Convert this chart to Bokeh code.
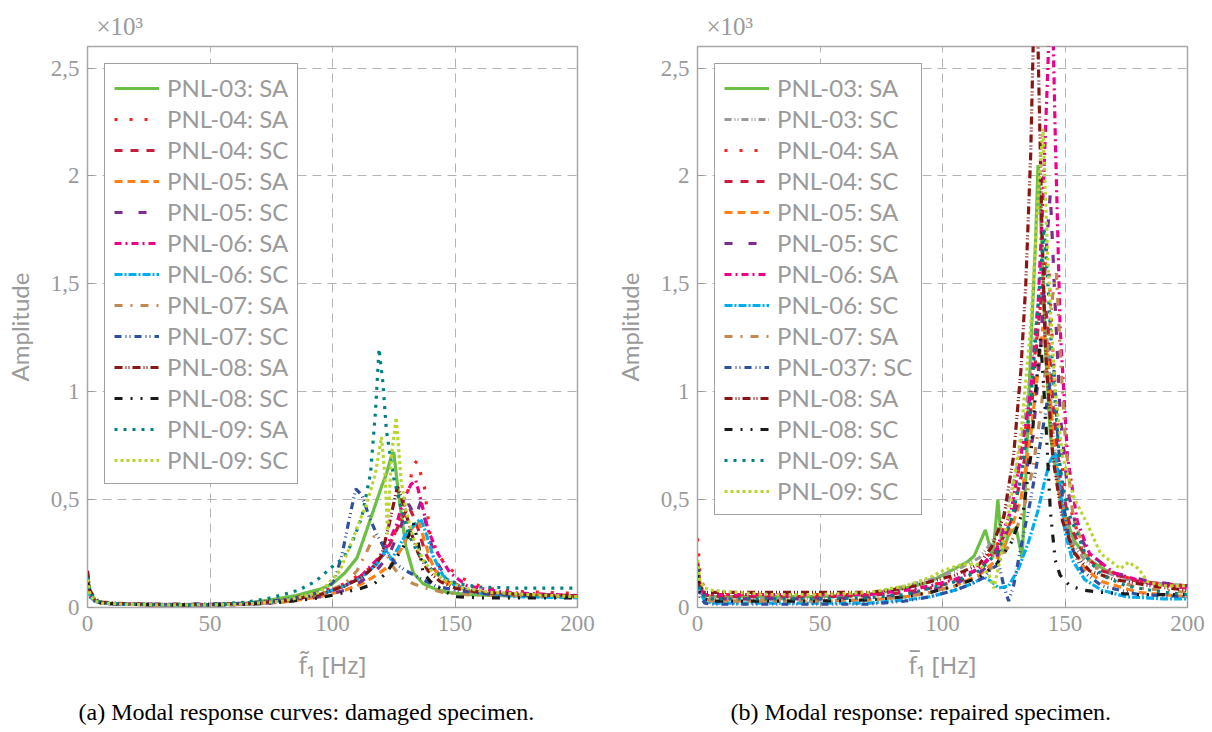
from bokeh.plotting import figure
from bokeh.models import Range1d, Legend, LegendItem, Title, FixedTicker
from bokeh.layouts import row
from bokeh.embed import file_html
from bokeh.resources import INLINE

# ---------------- data (amplitude in units of 10^3) ----------------
x_ticks = [0, 50, 100, 150, 200]
y_ticks = [0, 0.5, 1, 1.5, 2, 2.5]
y_tick_labels = {0: "0", 0.5: "0,5", 1: "1", 1.5: "1,5", 2: "2", 2.5: "2,5"}

# ---- (a) damaged specimen ----
a03SA_f = [0, 1, 3, 6, 15, 30, 50, 65, 75, 85, 95, 100, 105, 110, 114, 117, 120, 122, 124, 125, 127, 130, 133, 137, 142, 147, 155, 170, 185, 200]
a03SA_y = [0.14, 0.07, 0.035, 0.022, 0.015, 0.012, 0.012, 0.02, 0.035, 0.055, 0.085, 0.11, 0.16, 0.23, 0.36, 0.46, 0.56, 0.62, 0.7, 0.72, 0.52, 0.28, 0.16, 0.11, 0.085, 0.07, 0.06, 0.055, 0.05, 0.05]
a04SA_f = [0, 1, 3, 6, 15, 30, 50, 65, 80, 95, 105, 115, 120, 125, 128, 131, 133, 134.5, 136, 137.5, 140, 144, 148, 152, 162, 175, 200]
a04SA_y = [0.12, 0.06, 0.03, 0.02, 0.015, 0.012, 0.012, 0.018, 0.035, 0.07, 0.11, 0.18, 0.24, 0.33, 0.42, 0.55, 0.66, 0.68, 0.62, 0.56, 0.32, 0.23, 0.18, 0.14, 0.09, 0.075, 0.065]
a04SC_f = [0, 1, 3, 6, 15, 30, 50, 65, 80, 95, 105, 115, 122, 127, 131, 134, 138, 142, 147, 155, 170, 200]
a04SC_y = [0.13, 0.06, 0.03, 0.02, 0.015, 0.012, 0.012, 0.018, 0.03, 0.06, 0.1, 0.17, 0.26, 0.38, 0.47, 0.4, 0.25, 0.17, 0.12, 0.08, 0.06, 0.05]
a05SA_f = [0, 1, 3, 6, 15, 30, 50, 65, 80, 95, 105, 112, 118, 124, 128, 132, 135, 137, 140, 143, 148, 155, 170, 200]
a05SA_y = [0.12, 0.06, 0.03, 0.02, 0.015, 0.012, 0.012, 0.015, 0.025, 0.05, 0.08, 0.11, 0.15, 0.2, 0.27, 0.36, 0.4, 0.33, 0.22, 0.15, 0.1, 0.075, 0.06, 0.05]
a05SC_f = [0, 1, 3, 6, 15, 30, 50, 65, 80, 95, 105, 110, 117, 123, 128, 131, 134, 136, 139, 142, 147, 155, 170, 200]
a05SC_y = [0.12, 0.06, 0.03, 0.02, 0.016, 0.015, 0.015, 0.015, 0.025, 0.05, 0.08, 0.11, 0.16, 0.24, 0.38, 0.48, 0.42, 0.49, 0.35, 0.22, 0.13, 0.08, 0.06, 0.055]
a06SA_f = [0, 1, 3, 6, 15, 30, 50, 65, 80, 95, 105, 112, 118, 122, 126, 129, 132, 134, 136, 139, 143, 148, 155, 170, 200]
a06SA_y = [0.1, 0.05, 0.03, 0.02, 0.015, 0.012, 0.012, 0.015, 0.03, 0.06, 0.1, 0.15, 0.22, 0.28, 0.38, 0.5, 0.57, 0.59, 0.5, 0.36, 0.25, 0.16, 0.1, 0.07, 0.055]
a06SC_f = [0, 1, 3, 6, 15, 30, 50, 65, 80, 95, 105, 112, 118, 122, 124, 127, 130, 133, 136, 138, 141, 145, 150, 158, 175, 200]
a06SC_y = [0.11, 0.05, 0.03, 0.02, 0.015, 0.012, 0.012, 0.015, 0.03, 0.06, 0.1, 0.14, 0.2, 0.27, 0.22, 0.28, 0.34, 0.38, 0.41, 0.35, 0.24, 0.15, 0.1, 0.07, 0.05, 0.045]
a07SA_f = [0, 1, 3, 6, 15, 30, 50, 65, 80, 95, 105, 110, 114, 117, 120, 124, 128, 133, 138, 145, 155, 170, 200]
a07SA_y = [0.11, 0.05, 0.03, 0.02, 0.015, 0.012, 0.012, 0.015, 0.03, 0.06, 0.11, 0.17, 0.26, 0.33, 0.3, 0.2, 0.14, 0.11, 0.09, 0.07, 0.06, 0.055, 0.05]
a07SC_f = [0, 1, 3, 6, 15, 30, 50, 65, 80, 92, 98, 101, 104, 107, 109.5, 112, 115, 118, 122, 126, 130, 135, 142, 150, 165, 200]
a07SC_y = [0.12, 0.06, 0.03, 0.02, 0.015, 0.014, 0.016, 0.02, 0.035, 0.06, 0.09, 0.13, 0.25, 0.42, 0.55, 0.52, 0.42, 0.34, 0.26, 0.2, 0.17, 0.14, 0.1, 0.08, 0.06, 0.05]
a08SA_f = [0, 1, 3, 6, 15, 30, 50, 65, 80, 95, 105, 112, 117, 120, 123, 126.5, 129, 132, 135, 139, 144, 150, 160, 180, 200]
a08SA_y = [0.17, 0.08, 0.04, 0.025, 0.018, 0.015, 0.015, 0.018, 0.03, 0.06, 0.1, 0.14, 0.19, 0.24, 0.38, 0.56, 0.48, 0.35, 0.25, 0.17, 0.12, 0.09, 0.07, 0.06, 0.055]
a08SC_f = [0, 1, 3, 6, 15, 30, 50, 65, 80, 95, 105, 112, 117, 122, 126, 130, 133, 135, 137, 140, 145, 150, 160, 180, 200]
a08SC_y = [0.12, 0.06, 0.03, 0.02, 0.015, 0.012, 0.012, 0.014, 0.025, 0.045, 0.07, 0.09, 0.11, 0.16, 0.23, 0.3, 0.39, 0.3, 0.16, 0.12, 0.08, 0.05, 0.045, 0.045, 0.045]
a09SA_f = [0, 1, 3, 6, 15, 30, 50, 65, 73, 80, 86, 93, 100, 104.5, 108, 112, 115.5, 117.5, 119, 120.5, 122, 125, 128, 131, 134.5, 140, 145, 151, 160, 175, 200]
a09SA_y = [0.14, 0.07, 0.035, 0.022, 0.016, 0.013, 0.013, 0.025, 0.04, 0.06, 0.08, 0.12, 0.19, 0.23, 0.3, 0.42, 0.62, 0.9, 1.2, 1.05, 0.82, 0.6, 0.46, 0.34, 0.26, 0.18, 0.14, 0.11, 0.095, 0.09, 0.09]
a09SC_f = [0, 1, 3, 6, 15, 30, 50, 65, 80, 95, 103, 107, 111, 114, 117.5, 120, 121.5, 122.5, 124, 126, 128, 130, 133, 137, 141, 147, 153.6, 165, 180, 200]
a09SC_y = [0.13, 0.06, 0.03, 0.02, 0.015, 0.012, 0.012, 0.016, 0.03, 0.07, 0.17, 0.28, 0.4, 0.48, 0.62, 0.79, 0.6, 0.34, 0.7, 0.88, 0.59, 0.45, 0.32, 0.22, 0.16, 0.12, 0.09, 0.07, 0.06, 0.05]

# ---- (b) repaired specimen ----
b03SA_f = [0, 1, 3, 6, 15, 30, 50, 70, 85, 95, 100, 105, 110, 113, 117.5, 120.5, 122.6, 124.5, 127, 130, 132.5, 134, 136, 138, 139, 140.5, 142, 144, 148, 153.6, 160, 167, 180, 198]
b03SA_y = [0.2, 0.1, 0.06, 0.05, 0.05, 0.05, 0.05, 0.06, 0.09, 0.12, 0.15, 0.18, 0.21, 0.24, 0.36, 0.23, 0.5, 0.25, 0.34, 0.37, 0.23, 0.6, 1.2, 1.7, 2.05, 1.7, 1.2, 0.8, 0.5, 0.31, 0.22, 0.17, 0.12, 0.1]
b03SC_f = [0, 1, 3, 6, 15, 30, 50, 70, 85, 95, 100, 105, 110, 115, 120, 125, 130, 134, 137, 139, 141, 143, 145, 148, 152, 158, 165, 175, 190, 200]
b03SC_y = [0.18, 0.09, 0.05, 0.04, 0.04, 0.04, 0.045, 0.06, 0.1, 0.13, 0.15, 0.17, 0.2, 0.23, 0.3, 0.42, 0.62, 0.9, 1.2, 1.4, 1.45, 1.2, 0.85, 0.5, 0.32, 0.22, 0.17, 0.13, 0.11, 0.1]
b04SA_f = [0, 1, 3, 6, 15, 30, 50, 70, 85, 95, 105, 115, 122, 128, 133, 137, 140, 142, 143.5, 145, 147, 150, 155, 160, 170, 180, 200]
b04SA_y = [0.32, 0.15, 0.08, 0.06, 0.06, 0.06, 0.06, 0.06, 0.08, 0.1, 0.14, 0.2, 0.28, 0.45, 0.75, 1.1, 1.4, 1.6, 1.55, 1.2, 0.85, 0.55, 0.35, 0.24, 0.16, 0.12, 0.1]
b04SC_f = [0, 1, 3, 6, 15, 30, 50, 70, 85, 95, 105, 115, 122, 128, 133, 137, 139, 141, 143, 145, 148, 152, 158, 165, 180, 200]
b04SC_y = [0.22, 0.1, 0.06, 0.05, 0.05, 0.05, 0.05, 0.055, 0.07, 0.09, 0.12, 0.18, 0.26, 0.4, 0.65, 1.0, 1.3, 1.5, 1.3, 0.95, 0.6, 0.38, 0.24, 0.17, 0.12, 0.1]
b05SA_f = [0, 1, 3, 6, 15, 30, 50, 70, 85, 95, 105, 115, 122, 127, 132, 136, 139, 141, 143, 145, 148, 152, 158, 165, 180, 200]
b05SA_y = [0.2, 0.08, 0.04, 0.03, 0.03, 0.03, 0.03, 0.035, 0.05, 0.07, 0.1, 0.15, 0.22, 0.33, 0.5, 0.8, 1.1, 1.3, 1.15, 0.8, 0.5, 0.3, 0.18, 0.12, 0.07, 0.05]
b05SC_f = [0, 1, 3, 6, 15, 30, 50, 70, 85, 95, 105, 115, 122, 128, 133, 137, 140, 142, 144, 146, 148, 151, 155, 160, 170, 185, 200]
b05SC_y = [0.2, 0.09, 0.05, 0.04, 0.04, 0.04, 0.04, 0.045, 0.06, 0.08, 0.11, 0.16, 0.23, 0.4, 0.55, 0.8, 1.2, 1.6, 1.92, 1.4, 0.9, 0.55, 0.35, 0.25, 0.16, 0.12, 0.1]
b06SA_f = [0, 1, 3, 6, 15, 30, 50, 70, 85, 95, 105, 115, 122, 128, 132, 136, 139, 141, 143, 144.5, 146, 148, 151, 155, 160, 170, 185, 200]
b06SA_y = [0.15, 0.08, 0.06, 0.06, 0.06, 0.06, 0.06, 0.06, 0.08, 0.1, 0.13, 0.18, 0.27, 0.45, 0.7, 1.0, 1.4, 1.9, 2.5, 3.0, 2.2, 1.3, 0.7, 0.4, 0.25, 0.16, 0.11, 0.09]
b06SC_f = [0, 1, 3, 6, 15, 30, 50, 70, 85, 95, 105, 112, 117, 120, 123, 127, 131, 135, 139, 142, 144, 146, 148, 150, 153, 158, 165, 175, 190, 200]
b06SC_y = [0.18, 0.07, 0.03, 0.02, 0.02, 0.02, 0.02, 0.02, 0.035, 0.05, 0.08, 0.11, 0.14, 0.12, 0.09, 0.1, 0.18, 0.3, 0.45, 0.6, 0.68, 0.72, 0.55, 0.35, 0.22, 0.13, 0.08, 0.05, 0.04, 0.04]
b07SA_f = [0, 1, 3, 6, 15, 30, 50, 70, 85, 95, 105, 115, 122, 128, 133, 137, 140, 143, 145, 146.5, 148, 150, 153, 158, 165, 180, 200]
b07SA_y = [0.15, 0.07, 0.04, 0.03, 0.03, 0.03, 0.03, 0.035, 0.05, 0.07, 0.1, 0.14, 0.2, 0.3, 0.45, 0.65, 0.9, 1.2, 1.45, 1.55, 1.2, 0.8, 0.45, 0.25, 0.15, 0.09, 0.07]
b07SC_f = [0, 1, 3, 6, 15, 30, 50, 70, 85, 95, 105, 112, 117, 120, 123, 125, 127, 129, 132, 136, 139, 142, 144, 145.5, 147, 149, 152, 157, 165, 180, 200]
b07SC_y = [0.12, 0.05, 0.02, 0.015, 0.015, 0.015, 0.015, 0.015, 0.03, 0.05, 0.08, 0.11, 0.14, 0.18, 0.2, 0.1, 0.03, 0.1, 0.28, 0.5, 0.7, 0.9, 1.05, 1.1, 0.8, 0.5, 0.3, 0.17, 0.1, 0.06, 0.05]
b08SA_f = [0, 1, 3, 6, 15, 30, 50, 70, 85, 95, 105, 115, 120, 125, 129, 132, 134, 136, 137, 138, 139, 140.5, 142, 145, 149, 154, 160, 170, 185, 200]
b08SA_y = [0.2, 0.1, 0.07, 0.07, 0.07, 0.07, 0.07, 0.07, 0.09, 0.12, 0.15, 0.2, 0.28, 0.42, 0.7, 1.1, 1.5, 2.1, 2.6, 3.2, 2.6, 1.8, 1.2, 0.7, 0.4, 0.25, 0.17, 0.13, 0.1, 0.08]
b08SC_f = [0, 1, 3, 6, 15, 30, 50, 70, 85, 95, 105, 115, 122, 128, 133, 136, 138, 140, 142, 144, 146, 148, 152, 158, 165, 180, 200]
b08SC_y = [0.15, 0.07, 0.04, 0.03, 0.03, 0.03, 0.03, 0.035, 0.05, 0.07, 0.1, 0.14, 0.2, 0.3, 0.45, 0.7, 1.0, 1.25, 0.9, 0.45, 0.22, 0.15, 0.1, 0.08, 0.07, 0.06, 0.06]
b09SA_f = [0, 1, 3, 6, 15, 30, 50, 70, 85, 95, 105, 115, 122, 128, 132, 136, 139, 141.5, 143, 145, 148, 151, 155, 159, 165, 175, 190, 200]
b09SA_y = [0.18, 0.08, 0.05, 0.04, 0.04, 0.04, 0.04, 0.045, 0.06, 0.09, 0.12, 0.17, 0.25, 0.4, 0.6, 0.95, 1.4, 1.76, 1.5, 1.1, 0.65, 0.45, 0.34, 0.23, 0.15, 0.1, 0.07, 0.06]
b09SC_f = [0, 1, 3, 6, 15, 30, 50, 70, 85, 95, 100, 108, 115, 119, 121, 124, 128, 132, 136, 139, 141, 143, 146, 149, 153.6, 159, 164.5, 172.6, 176, 180, 183.7, 190, 200]
b09SC_y = [0.22, 0.12, 0.09, 0.08, 0.07, 0.06, 0.06, 0.07, 0.1, 0.14, 0.17, 0.2, 0.2, 0.15, 0.09, 0.25, 0.5, 0.8, 1.3, 1.9, 2.22, 1.6, 1.0, 0.7, 0.51, 0.39, 0.25, 0.18, 0.21, 0.18, 0.12, 0.1, 0.1]

# ---------------- styles ----------------
STY = {
    "PNL-03: SA": ("#6CBF45", "solid"),
    "PNL-03: SC": ("#999999", "7 3 1 2 1 3"),
    "PNL-04: SA": ("#FF1F1F", "3 12"),
    "PNL-04: SC": ("#C81E3C", "8 8"),
    "PNL-05: SA": ("#FF8019", "8 5"),
    "PNL-05: SC": ("#7D2E8C", "8 16"),
    "PNL-06: SA": ("#EC008C", "7 4 2 4"),
    "PNL-06: SC": ("#00AEEF", "8 2 2 2"),
    "PNL-07: SA": ("#C28A50", "8 8 2 8"),
    "PNL-07: SC": ("#2F4FA2", "7 4 1 3 1 4"),
    "PNL-08: SA": ("#8A1515", "8 3 1 2 1 3"),
    "PNL-08: SC": ("#1A1A1A", "8 8 2 8 2 8"),
    "PNL-09: SA": ("#008080", "3 6"),
    "PNL-09: SC": ("#B8D534", "3 3"),
}

series_a = [
    ("PNL-03: SA", "PNL-03: SA", a03SA_f, a03SA_y),
    ("PNL-04: SA", "PNL-04: SA", a04SA_f, a04SA_y),
    ("PNL-04: SC", "PNL-04: SC", a04SC_f, a04SC_y),
    ("PNL-05: SA", "PNL-05: SA", a05SA_f, a05SA_y),
    ("PNL-05: SC", "PNL-05: SC", a05SC_f, a05SC_y),
    ("PNL-06: SA", "PNL-06: SA", a06SA_f, a06SA_y),
    ("PNL-06: SC", "PNL-06: SC", a06SC_f, a06SC_y),
    ("PNL-07: SA", "PNL-07: SA", a07SA_f, a07SA_y),
    ("PNL-07: SC", "PNL-07: SC", a07SC_f, a07SC_y),
    ("PNL-08: SA", "PNL-08: SA", a08SA_f, a08SA_y),
    ("PNL-08: SC", "PNL-08: SC", a08SC_f, a08SC_y),
    ("PNL-09: SA", "PNL-09: SA", a09SA_f, a09SA_y),
    ("PNL-09: SC", "PNL-09: SC", a09SC_f, a09SC_y),
]
series_b = [
    ("PNL-03: SA", "PNL-03: SA", b03SA_f, b03SA_y),
    ("PNL-03: SC", "PNL-03: SC", b03SC_f, b03SC_y),
    ("PNL-04: SA", "PNL-04: SA", b04SA_f, b04SA_y),
    ("PNL-04: SC", "PNL-04: SC", b04SC_f, b04SC_y),
    ("PNL-05: SA", "PNL-05: SA", b05SA_f, b05SA_y),
    ("PNL-05: SC", "PNL-05: SC", b05SC_f, b05SC_y),
    ("PNL-06: SA", "PNL-06: SA", b06SA_f, b06SA_y),
    ("PNL-06: SC", "PNL-06: SC", b06SC_f, b06SC_y),
    ("PNL-07: SA", "PNL-07: SA", b07SA_f, b07SA_y),
    ("PNL-07: SC", "PNL-037: SC", b07SC_f, b07SC_y),
    ("PNL-08: SA", "PNL-08: SA", b08SA_f, b08SA_y),
    ("PNL-08: SC", "PNL-08: SC", b08SC_f, b08SC_y),
    ("PNL-09: SA", "PNL-09: SA", b09SA_f, b09SA_y),
    ("PNL-09: SC", "PNL-09: SC", b09SC_f, b09SC_y),
]

GRAY = "#9a9a9a"
SANS = "Lato"
SERIF = "Liberation Serif"


def panel(series, xlabel, caption, right_border, cap_offset):
    p = figure(frame_width=490, frame_height=561,
               x_range=Range1d(0, 200), y_range=Range1d(0, 2.6),
               output_backend="svg", toolbar_location=None,
               min_border_left=87, min_border_right=right_border,
               min_border_top=46, min_border_bottom=0,
               title="×10³")
    p.title.text_font = SERIF
    p.title.text_font_size = "25px"
    p.title.text_font_style = "normal"
    p.title.text_color = GRAY
    p.title.align = "left"
    p.title.offset = 9
    p.title.standoff = 14

    p.outline_line_color = "#a8a8a8"
    p.outline_line_width = 1.5

    for ax, ticks in ((p.xaxis[0], x_ticks), (p.yaxis[0], y_ticks)):
        ax.ticker = FixedTicker(ticks=ticks)
        ax.major_tick_in = 6
        ax.major_tick_out = 0
        ax.minor_tick_line_color = None
        ax.major_tick_line_color = GRAY
        ax.axis_line_color = "#a8a8a8"
        ax.major_label_text_font = SERIF
        ax.major_label_text_font_size = "23px"
        ax.major_label_text_color = GRAY
        ax.major_label_standoff = 8
        ax.axis_label_text_font = SANS
        ax.axis_label_text_font_size = "24px"
        ax.axis_label_text_font_style = "normal"
        ax.axis_label_text_color = GRAY
        ax.axis_label_standoff = 14
    p.yaxis[0].major_label_overrides = y_tick_labels
    p.yaxis[0].major_label_orientation = "horizontal"
    p.yaxis[0].axis_label = "Amplitude"
    p.xaxis[0].axis_label = xlabel
    p.xaxis[0].axis_label_text_font = "Noto Sans"

    p.xgrid.ticker = FixedTicker(ticks=x_ticks)
    p.ygrid.ticker = FixedTicker(ticks=y_ticks)
    for g in (p.xgrid[0], p.ygrid[0]):
        g.grid_line_color = "#b4b4b4"
        g.grid_line_dash = "9 6"
        g.grid_line_width = 1

    items = []
    for key, label, fx, fy in series:
        color, dash = STY[key]
        r = p.line(fx, fy, line_color=color, line_dash=dash, line_width=3.2)
        items.append(LegendItem(label=label, renderers=[r]))

    leg = Legend(items=items, location="top_left")
    leg.label_text_font = SANS
    leg.label_text_font_size = "24px"
    leg.label_text_color = GRAY
    leg.glyph_width = 45
    leg.glyph_height = 20
    leg.label_standoff = 8
    leg.spacing = 2
    leg.padding = 9
    leg.margin = 17
    leg.border_line_color = "#444444"
    leg.border_line_width = 1
    leg.background_fill_alpha = 1.0
    p.add_layout(leg)

    cap = Title(text=caption, align="left", text_font=SERIF, text_font_size="24px",
                text_font_style="normal", text_color="black", standoff=27, offset=cap_offset)
    p.add_layout(cap, "below")
    return p


p1 = panel(series_a, "f\u0303\u2081 [Hz]", "(a) Modal response curves: damaged specimen.", 33, -9)
p2 = panel(series_b, "f\u0305\u2081 [Hz]", "(b) Modal response: repaired specimen.", 25, 33)

layout = row(p1, p2)
open("out.html", "w").write(file_html(layout, INLINE))
